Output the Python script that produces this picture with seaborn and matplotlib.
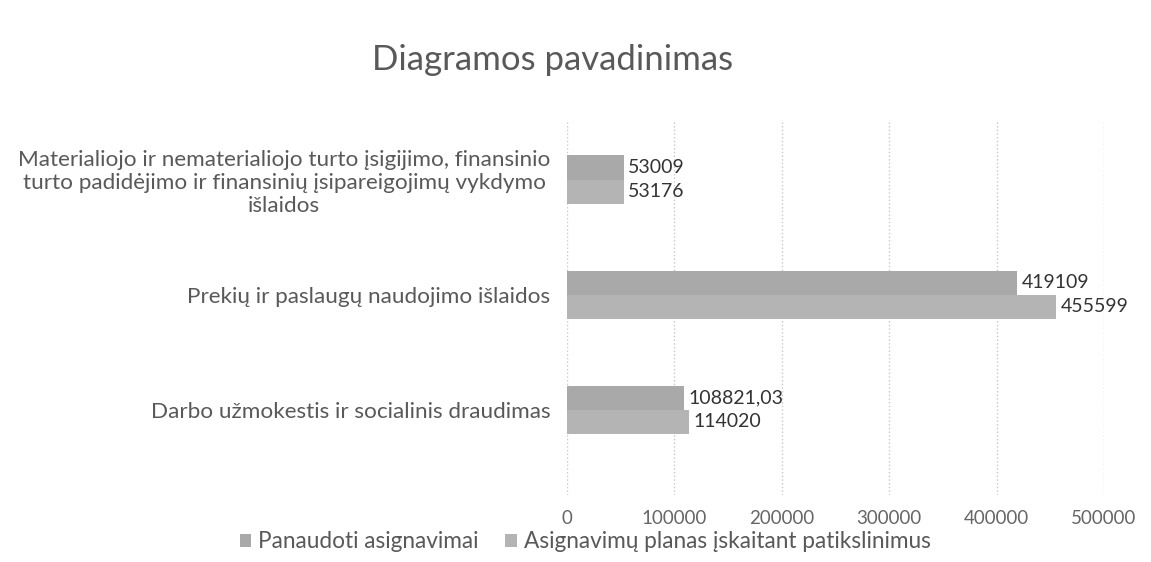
import matplotlib.pyplot as plt
import seaborn as sns
import pandas as pd
from matplotlib.patches import Patch


# Chart data
categories = [
    "Materialiojo ir nematerialiojo turto įsigijimo, finansinio\n"
    "turto padidėjimo ir finansinių įsipareigojimų vykdymo\nišlaidos",
    "Prekių ir paslaugų naudojimo išlaidos",
    "Darbo užmokestis ir socialinis draudimas",
]
series_names = ["Panaudoti asignavimai", "Asignavimų planas įskaitant patikslinimus"]
used = [53009, 419109, 108821.03]
planned = [53176, 455599, 114020]
used_labels = ["53009", "419109", "108821,03"]
planned_labels = ["53176", "455599", "114020"]
x_ticks = [0, 100000, 200000, 300000, 400000, 500000]

colors = ["#a9a9a9", "#b4b4b4"]
text_grey = "#595959"

sns.set_theme(style="white")
plt.rcParams["font.family"] = ["Lato", "DejaVu Sans"]

df = pd.DataFrame({
    "Kategorija": categories * 2,
    "Serija": [series_names[0]] * 3 + [series_names[1]] * 3,
    "Suma": used + planned,
})

fig = plt.figure(figsize=(11.51, 5.62), dpi=100)
ax = fig.add_axes([567 / 1151, 1 - 495 / 562, (1104 - 567) / 1151, (495 - 122) / 562])

sns.barplot(
    data=df, y="Kategorija", x="Suma", hue="Serija",
    order=categories, hue_order=series_names,
    palette=colors, orient="h", width=0.42, ax=ax, legend=False,
    saturation=1, errorbar=None, linewidth=0,
)

# data labels
for container, labels in zip(ax.containers, [used_labels, planned_labels]):
    ax.bar_label(container, labels=labels, padding=3, fontsize=14, color="#333333")

ax.set_xlim(0, 500000)
ax.set_ylim(2.74, -0.5)
ax.set_xticks(x_ticks)
ax.set_xticklabels([str(t) for t in x_ticks], fontsize=13.5, color="#666666")
ax.tick_params(axis="x", length=0, pad=11)
ax.tick_params(axis="y", length=0, pad=12)
for lab in ax.get_yticklabels():
    lab.set_fontsize(16.2)
    lab.set_color(text_grey)
    lab.set_multialignment("center")
ax.set_xlabel("")
ax.set_ylabel("")

ax.grid(axis="x", color="#c8c8c8", linestyle=":", linewidth=1)
ax.set_axisbelow(True)
for s in ax.spines.values():
    s.set_visible(False)

fig.text(553 / 1151, 1 - 60 / 562, "Diagramos pavadinimas",
         ha="center", va="center", fontsize=25, color=text_grey)

handles = [Patch(facecolor=c, edgecolor="none") for c in colors]
fig.legend(handles, series_names, loc="center", bbox_to_anchor=(585 / 1151, 1 - 542 / 562),
           ncol=2, frameon=False, fontsize=16.3, labelcolor=text_grey,
           handlelength=0.5, handleheight=0.5, handletextpad=0.3, columnspacing=1.2)

fig.savefig("out.png", dpi=100, facecolor="white")
